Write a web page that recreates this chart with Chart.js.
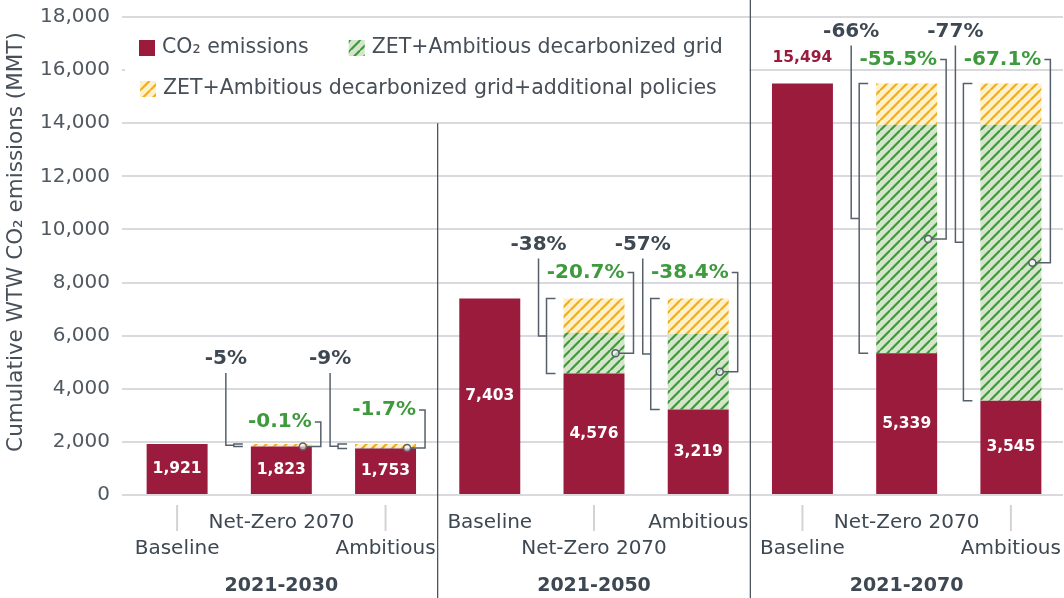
<!DOCTYPE html>
<html>
<head>
<meta charset="utf-8">
<script src="https://cdn.jsdelivr.net/npm/chart.js@4.4.1/dist/chart.umd.min.js"></script>
<style>
  html, body { margin: 0; padding: 0; background: #fff; }
  #wrap { width: 1064px; height: 598px; position: relative; }
</style>
</head>
<body>
<div id="wrap"><canvas id="chart"></canvas></div>
<script>
const categories = ['Baseline', 'Net-Zero 2070', 'Ambitious',
                    'Baseline', 'Net-Zero 2070', 'Ambitious',
                    'Baseline', 'Net-Zero 2070', 'Ambitious'];
const periods = ['2021-2030', '2021-2050', '2021-2070'];

// cumulative WTW CO2, MMT
const co2Emissions = [1921, 1823, 1753, 7403, 4576, 3219, 15494, 5339, 3545];
const zetGrid      = [0, 2, 33, 0, 1532, 2843, 0, 8599, 10396];
const addPolicies  = [0, 96, 135, 0, 1295, 1341, 0, 1556, 1553];

const totalCut = ['', '-5%', '-9%', '', '-38%', '-57%', '', '-66%', '-77%'];
const gridCut  = ['', '-0.1%', '-1.7%', '', '-20.7%', '-38.4%', '', '-55.5%', '-67.1%'];

const yTicks = [0, 2000, 4000, 6000, 8000, 10000, 12000, 14000, 16000, 18000];

const FONT = '"DejaVu Sans", sans-serif';
const RED = '#9b1b3d';
const DARK = '#3e4852';
const GREEN_TXT = '#3f9a3d';
const LINE = '#56606b';

function makeHatch(bg, stripe) {
  const size = 10.5;
  const c = document.createElement('canvas');
  c.width = size;
  c.height = size;
  const g = c.getContext('2d');
  g.fillStyle = bg;
  g.fillRect(0, 0, size, size);
  g.strokeStyle = stripe;
  g.lineWidth = 2.2;
  g.beginPath();
  g.moveTo(0, size); g.lineTo(size, 0);
  g.moveTo(-size / 2, size / 2); g.lineTo(size / 2, -size / 2);
  g.moveTo(size / 2, size * 1.5); g.lineTo(size * 1.5, size / 2);
  g.stroke();
  return g.createPattern(c, 'repeat');
}

const greenHatch = makeHatch('#d5e5cb', '#3d9a3a');
const yellowHatch = makeHatch('#fdf1cb', '#f2ad1a');

// layout of the annotations (pixel lifts above the top of the stack)
const darkLift  = { 1: 85, 2: 85, 4: 54, 5: 54, 7: 52, 8: 52 };
const greenLift = { 1: 22, 2: 34, 4: 26, 5: 26, 7: 24, 8: 24 };
const labelAbove = new Set([6]);
const nzRow = [0, 1, 0];

function separators(chart) {
  const x = chart.scales.x;
  return [
    (x.getPixelForValue(2) + x.getPixelForValue(3)) / 2,
    (x.getPixelForValue(5) + x.getPixelForValue(6)) / 2
  ];
}

const overlay = {
  id: 'overlay',
  beforeDatasetsDraw(chart) {
    const { ctx, chartArea } = chart;
    const [, sep2] = separators(chart);
    ctx.save();
    ctx.fillStyle = '#fff';
    ctx.fillRect(chartArea.left, 24, sep2 - chartArea.left - 1, 90);

    // legend
    ctx.font = '20.5px ' + FONT;
    ctx.textBaseline = 'middle';
    let x = chartArea.left + 14;
    const ds = chart.data.datasets;
    [[0, 48], [1, 48], [2, 89]].forEach(([d, y], n) => {
      if (n === 2) x = chartArea.left + 15;
      ctx.fillStyle = ds[d].backgroundColor;
      ctx.fillRect(x, y - 8, 16, 16);
      ctx.fillStyle = '#464e57';
      ctx.textAlign = 'left';
      ctx.fillText(ds[d].label, x + 23, y);
      x += 23 + ctx.measureText(ds[d].label).width + 40;
    });
    ctx.restore();
  },
  afterDatasetsDraw(chart) {
    const { ctx, scales } = chart;
    const red = chart.getDatasetMeta(0).data;
    const green = chart.getDatasetMeta(1).data;
    const yellow = chart.getDatasetMeta(2).data;
    ctx.save();

    // period separators
    const [sep1, sep2] = separators(chart);
    ctx.strokeStyle = '#3f4a55';
    ctx.lineWidth = 1.2;
    ctx.beginPath();
    ctx.moveTo(sep1, scales.y.getPixelForValue(14000));
    ctx.lineTo(sep1, chart.height);
    ctx.moveTo(sep2, 0);
    ctx.lineTo(sep2, chart.height);
    ctx.stroke();

    // value labels
    ctx.font = 'bold 15.5px ' + FONT;
    ctx.textAlign = 'center';
    ctx.textBaseline = 'middle';
    red.forEach((bar, i) => {
      const txt = co2Emissions[i].toLocaleString('en-US');
      if (labelAbove.has(i)) {
        ctx.fillStyle = RED;
        ctx.fillText(txt, bar.x, bar.y - 26);
      } else {
        ctx.fillStyle = '#fff';
        ctx.fillText(txt, bar.x, (bar.y + bar.base) / 2);
      }
    });

    // brackets
    red.forEach((bar, i) => {
      if (!totalCut[i]) return;
      const left = bar.x - bar.width / 2;
      const right = bar.x + bar.width / 2;
      const yTop = yellow[i].y;
      const yRed = bar.y;
      const yMid = (yTop + yRed) / 2;
      const lx = left - 25, bx = left - 17, tx = left - 8;
      const darkY = yTop - darkLift[i];
      const greenY = yTop - greenLift[i];
      const gMid = (green[i].y + green[i].base) / 2;
      const rx = right + 9, cx = right - 9;

      ctx.strokeStyle = LINE;
      ctx.lineWidth = 1.5;
      ctx.beginPath();
      ctx.moveTo(tx, yTop); ctx.lineTo(bx, yTop); ctx.lineTo(bx, yRed); ctx.lineTo(tx, yRed);
      ctx.moveTo(bx, yMid); ctx.lineTo(lx, yMid); ctx.lineTo(lx, darkY + 14);
      ctx.moveTo(right + 3, greenY); ctx.lineTo(rx, greenY); ctx.lineTo(rx, gMid); ctx.lineTo(cx + 3.5, gMid);
      ctx.stroke();
      ctx.beginPath();
      ctx.arc(cx, gMid, 3.5, 0, 2 * Math.PI);
      ctx.fillStyle = 'rgba(255,255,255,0.6)';
      ctx.fill();
      ctx.stroke();

      ctx.font = 'bold 20px ' + FONT;
      ctx.textBaseline = 'middle';
      ctx.textAlign = 'center';
      ctx.fillStyle = DARK;
      ctx.fillText(totalCut[i], lx, darkY);
      ctx.textAlign = 'right';
      ctx.fillStyle = GREEN_TXT;
      ctx.fillText(gridCut[i], right, greenY);
    });

    // x labels
    const rowY = [523, 549];
    ctx.textAlign = 'center';
    ctx.textBaseline = 'middle';
    categories.forEach((name, i) => {
      const p = Math.floor(i / 3);
      const row = (i % 3 === 1) ? nzRow[p] : 1 - nzRow[p];
      const x = scales.x.getPixelForValue(i);
      if (row === 1) {
        ctx.strokeStyle = '#d2d2d7';
        ctx.lineWidth = 2;
        ctx.beginPath();
        ctx.moveTo(x, 505);
        ctx.lineTo(x, 531);
        ctx.stroke();
      }
      ctx.font = '20px ' + FONT;
      ctx.fillStyle = DARK;
      ctx.fillText(name, x, rowY[row]);
    });
    ctx.font = 'bold 19px ' + FONT;
    periods.forEach((p, k) => {
      ctx.fillText(p, scales.x.getPixelForValue(k * 3 + 1), 586);
    });

    // y title
    ctx.translate(16, 242);
    ctx.rotate(-Math.PI / 2);
    ctx.font = '21.5px ' + FONT;
    ctx.fillStyle = '#484f58';
    ctx.fillText('Cumulative WTW CO\u2082 emissions (MMT)', 0, 0);
    ctx.restore();
  }
};

new Chart(document.getElementById('chart'), {
  type: 'bar',
  data: {
    labels: categories,
    datasets: [
      { label: 'CO\u2082 emissions', data: co2Emissions, backgroundColor: RED },
      { label: 'ZET+Ambitious decarbonized grid', data: zetGrid, backgroundColor: greenHatch },
      { label: 'ZET+Ambitious decarbonized grid+additional policies', data: addPolicies, backgroundColor: yellowHatch }
    ]
  },
  options: {
    responsive: true,
    maintainAspectRatio: false,
    animation: false,
    layout: { padding: { top: 17, right: 1, left: 0, bottom: 0 } },
    datasets: { bar: { barPercentage: 0.585, categoryPercentage: 1, borderWidth: 0 } },
    plugins: { legend: { display: false }, tooltip: { enabled: false } },
    scales: {
      x: {
        stacked: true,
        grid: { display: false },
        border: { display: false },
        ticks: { display: false },
        afterFit: s => { s.height = 103; }
      },
      y: {
        stacked: true,
        min: 0,
        max: 18000,
        afterBuildTicks: s => { s.ticks = yTicks.map(v => ({ value: v })); },
        ticks: {
          padding: 12,
          color: '#515860',
          font: { family: FONT, size: 20 },
          callback: v => v.toLocaleString('en-US')
        },
        grid: { color: '#dadade', lineWidth: 2, tickLength: 3 },
        border: { display: false },
        afterFit: s => { s.width = 125; s.paddingTop = 0; s.paddingBottom = 0; }
      }
    }
  },
  plugins: [overlay]
});
</script>
</body>
</html>
